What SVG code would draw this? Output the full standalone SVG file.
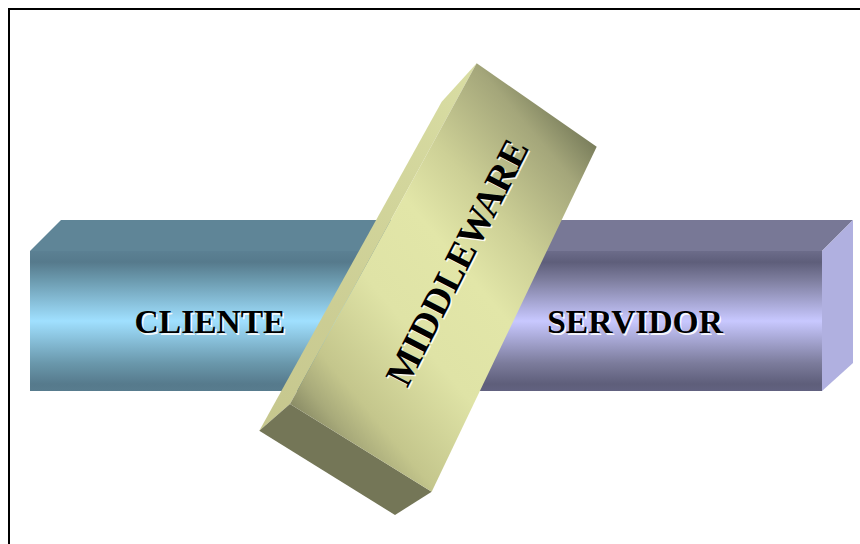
<svg xmlns="http://www.w3.org/2000/svg" width="860" height="544" viewBox="0 0 860 544">
<style>
.lbl{font-family:"Liberation Serif","Times New Roman",serif;font-weight:bold;text-anchor:middle}
.shadow{fill:#ffffff;fill-opacity:0.9}
.ink{fill:#000000}
</style>
<defs>
<linearGradient id="gBlue" x1="0" y1="0" x2="0" y2="1">
<stop offset="0" stop-color="#5b8093"/>
<stop offset="0.08" stop-color="#567a8c"/>
<stop offset="0.2" stop-color="#6a98ac"/>
<stop offset="0.5" stop-color="#a0e0ff"/>
<stop offset="0.8" stop-color="#6a98ac"/>
<stop offset="0.95" stop-color="#567a8c"/>
<stop offset="1" stop-color="#587c8e"/>
</linearGradient>
<linearGradient id="gPurple" x1="0" y1="0" x2="0" y2="1">
<stop offset="0" stop-color="#6c6c8a"/>
<stop offset="0.08" stop-color="#5e5e7a"/>
<stop offset="0.2" stop-color="#7c7c9c"/>
<stop offset="0.5" stop-color="#c8c8ff"/>
<stop offset="0.8" stop-color="#7c7c9c"/>
<stop offset="0.95" stop-color="#5e5e7a"/>
<stop offset="1" stop-color="#626280"/>
</linearGradient>
<linearGradient id="gFront" gradientUnits="userSpaceOnUse" x1="596.7" y1="146.7" x2="290" y2="404">
<stop offset="0" stop-color="#7a7e5c"/>
<stop offset="0.1" stop-color="#a4a67a"/>
<stop offset="0.3" stop-color="#cdd096"/>
<stop offset="0.45" stop-color="#e2e6a8"/>
<stop offset="0.65" stop-color="#dfe3a6"/>
<stop offset="0.86" stop-color="#c4c68c"/>
<stop offset="0.94" stop-color="#a8aa7a"/>
<stop offset="1" stop-color="#8a8c66"/>
</linearGradient>
<linearGradient id="gSide" gradientUnits="userSpaceOnUse" x1="460" y1="80" x2="275" y2="420">
<stop offset="0" stop-color="#d8dca2"/>
<stop offset="1" stop-color="#c6c78e"/>
</linearGradient>
</defs>
<rect width="860" height="544" fill="#ffffff"/>
<path d="M9,544 V9 H860" fill="none" stroke="#000000" stroke-width="2"/>
<g id="node-cliente">
<polygon points="30,251 61,220 461,220 430,251" fill="#5f8597"/>
<rect x="30" y="251" width="400" height="140" fill="url(#gBlue)"/>
<text class="lbl shadow" x="211.5" y="334.5" font-size="33.5">CLIENTE</text>
<text class="lbl ink" x="210" y="333" font-size="33.5">CLIENTE</text>
</g>
<g id="node-servidor">
<polygon points="430,251 461,220 853,220 822,251" fill="#787896"/>
<rect x="430" y="251" width="392" height="140" fill="url(#gPurple)"/>
<polygon points="822,251 853,220 853,363 822,391" fill="#b0b0e0"/>
<text class="lbl shadow" x="636.5" y="334.5" font-size="33.5">SERVIDOR</text>
<text class="lbl ink" x="635" y="333" font-size="33.5">SERVIDOR</text>
</g>
<g id="node-middleware">
<polygon points="476.7,63.3 441.7,101.7 259.3,430.7 290,404" fill="url(#gSide)"/>
<polygon points="290,404 431.7,491.7 395,515 259.3,430.7" fill="#747657"/>
<polygon points="476.7,63.3 596.7,146.7 431.7,491.7 290,404" fill="url(#gFront)"/>
<text class="lbl shadow" font-size="38" transform="translate(470,269.5) rotate(-63)">MIDDLEWARE</text>
<text class="lbl ink" font-size="38" transform="translate(468.5,268) rotate(-63)">MIDDLEWARE</text>
</g>
</svg>
